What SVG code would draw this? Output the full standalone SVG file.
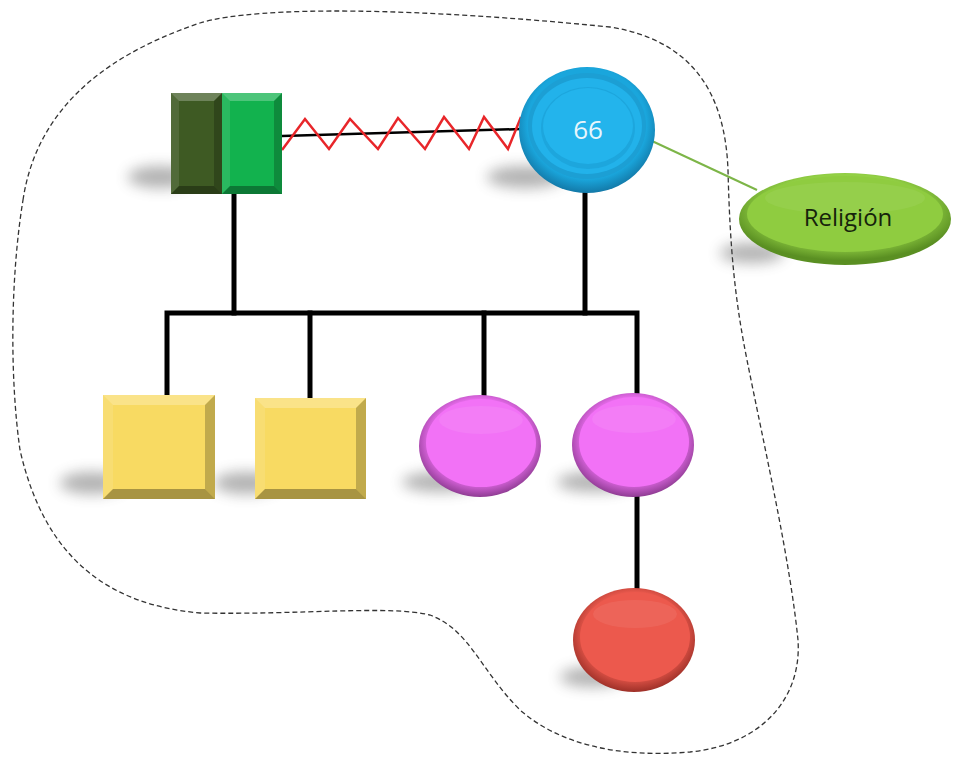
<svg xmlns="http://www.w3.org/2000/svg" width="953" height="757" viewBox="0 0 953 757">
<defs>
<filter id="blur" x="-50%" y="-100%" width="200%" height="300%"><feGaussianBlur stdDeviation="7"/></filter>
<radialGradient id="gBlue" cx="50%" cy="45%" r="55%"><stop offset="0.8" stop-color="#1aa6dc"/><stop offset="1" stop-color="#1379a8"/></radialGradient>
<radialGradient id="gPink" cx="50%" cy="45%" r="55%"><stop offset="0.75" stop-color="#e46ae8"/><stop offset="1" stop-color="#8f3c93"/></radialGradient>
<radialGradient id="gRed" cx="50%" cy="45%" r="55%"><stop offset="0.75" stop-color="#e6574b"/><stop offset="1" stop-color="#9e3028"/></radialGradient>
<radialGradient id="gRel" cx="50%" cy="40%" r="55%"><stop offset="0.7" stop-color="#93d045"/><stop offset="1" stop-color="#5a8f22"/></radialGradient>
</defs>
<style>
.shadow{fill:#4a4a4a;opacity:.42;filter:url(#blur)}
.bt{fill:#fff;opacity:.25}
.bl{fill:#fff;opacity:.1}
.br{fill:#000;opacity:.22}
.bb{fill:#000;opacity:.32}
.conn{stroke:#000;stroke-width:5;fill:none;stroke-linecap:square}
.lbl{font-family:"Open Sans","Liberation Sans",sans-serif}
</style>

<path id="outline" d="M 23,200 C 35,120 90,60 200,23 C 260,5 420,8 610,27 C 690,40 725,90 728,170 C 730,250 735,300 747,360 C 765,450 790,560 798,640 C 802,700 760,745 690,752 C 620,758 560,745 520,710 C 480,670 470,630 430,615 C 390,605 300,615 200,613 C 110,605 45,560 20,450 C 10,380 10,280 23,200 Z" fill="none" stroke="#333" stroke-width="1.3" stroke-dasharray="5,3"/>

<g id="shadows">
<ellipse class="shadow" cx="160" cy="177" rx="32" ry="11"/>
<ellipse class="shadow" cx="525" cy="177" rx="38" ry="11"/>
<ellipse class="shadow" cx="752" cy="253" rx="32" ry="10"/>
<ellipse class="shadow" cx="92" cy="483" rx="32" ry="11"/>
<ellipse class="shadow" cx="246" cy="483" rx="32" ry="11"/>
<ellipse class="shadow" cx="440" cy="482" rx="38" ry="10"/>
<ellipse class="shadow" cx="595" cy="482" rx="38" ry="10"/>
<ellipse class="shadow" cx="592" cy="677" rx="32" ry="10"/>
</g>

<g id="connectors">
<line x1="282" y1="136" x2="521" y2="129" stroke="#000" stroke-width="2.5"/>
<polyline points="282,150 305,119 329,149 350,119 378,149 398,118 425,149 444,117 469,149 484,117 508,149 521,117" fill="none" stroke="#e8262a" stroke-width="2.5" stroke-linejoin="miter"/>
<line x1="652" y1="141" x2="757" y2="190" stroke="#7db548" stroke-width="2"/>
<line class="conn" x1="234" y1="194" x2="234" y2="313"/>
<line class="conn" x1="585" y1="193" x2="585" y2="313"/>
<polyline class="conn" points="167,395 167,313 637,313 637,394" stroke-linejoin="miter"/>
<line class="conn" x1="310" y1="313" x2="310" y2="398"/>
<line class="conn" x1="484" y1="313" x2="484" y2="396"/>
<line class="conn" x1="637" y1="497" x2="637" y2="588"/>
</g>

<g id="couple-male">
<rect x="171" y="93" width="51" height="101" fill="#3e5a23"/>
<polygon class="bt" points="171,93 222,93 214,101 179,101"/>
<polygon class="bl" points="171,93 179,101 179,186 171,194"/>
<polygon class="br" points="222,93 214,101 214,186 222,194"/>
<polygon class="bb" points="171,194 179,186 214,186 222,194"/>
<rect x="222" y="93" width="60" height="101" fill="#12b24e"/>
<polygon class="bt" points="222,93 282,93 274,101 230,101"/>
<polygon class="bl" points="222,93 230,101 230,186 222,194"/>
<polygon class="br" points="282,93 274,101 274,186 282,194"/>
<polygon class="bb" points="222,194 230,186 274,186 282,194"/>
</g>

<g id="woman-66">
<ellipse cx="587" cy="130" rx="68" ry="63" fill="url(#gBlue)"/>
<ellipse cx="587" cy="126" rx="59" ry="53" fill="#1c9fd4"/>
<ellipse cx="587" cy="126" rx="55" ry="48" fill="#22b2ea"/>
<ellipse cx="588" cy="128" rx="47" ry="41" fill="#1da6dd"/>
<ellipse cx="588" cy="126" rx="45" ry="38" fill="#23b4ec"/>
<text class="lbl" x="588" y="139" text-anchor="middle" font-size="26" fill="#e8f6fc">66</text>
</g>

<g id="religion">
<ellipse cx="845" cy="219" rx="106" ry="46" fill="url(#gRel)"/>
<ellipse cx="845" cy="214" rx="98" ry="38" fill="#8fcc40"/>
<ellipse cx="845" cy="198" rx="80" ry="16" fill="#fff" opacity=".06"/>
<text class="lbl" x="848" y="226" text-anchor="middle" font-size="24" fill="#16230c">Religión</text>
</g>

<g id="son-1">
<rect x="103" y="395" width="112" height="104" fill="#f8da62"/>
<polygon class="bt" points="103,395 215,395 205,405 113,405"/>
<polygon class="bl" points="103,395 113,405 113,489 103,499"/>
<polygon class="br" points="215,395 205,405 205,489 215,499"/>
<polygon class="bb" points="103,499 113,489 205,489 215,499"/>
</g>

<g id="son-2">
<rect x="255" y="398" width="111" height="101" fill="#f8da62"/>
<polygon class="bt" points="255,398 366,398 356,408 265,408"/>
<polygon class="bl" points="255,398 265,408 265,489 255,499"/>
<polygon class="br" points="366,398 356,408 356,489 366,499"/>
<polygon class="bb" points="255,499 265,489 356,489 366,499"/>
</g>

<g id="daughter-1">
<ellipse cx="480" cy="446" rx="61" ry="51" fill="url(#gPink)"/>
<ellipse cx="481" cy="443" rx="55" ry="44" fill="#f272f6"/>
<ellipse cx="481" cy="420" rx="42" ry="14" fill="#fff" opacity=".08"/>
</g>

<g id="daughter-2">
<ellipse cx="633" cy="445" rx="61" ry="52" fill="url(#gPink)"/>
<ellipse cx="634" cy="442" rx="55" ry="45" fill="#f272f6"/>
<ellipse cx="634" cy="419" rx="42" ry="14" fill="#fff" opacity=".08"/>
</g>

<g id="granddaughter">
<ellipse cx="634" cy="640" rx="61" ry="52" fill="url(#gRed)"/>
<ellipse cx="635" cy="637" rx="55" ry="45" fill="#ec594d"/>
<ellipse cx="635" cy="614" rx="42" ry="14" fill="#fff" opacity=".07"/>
</g>
</svg>
